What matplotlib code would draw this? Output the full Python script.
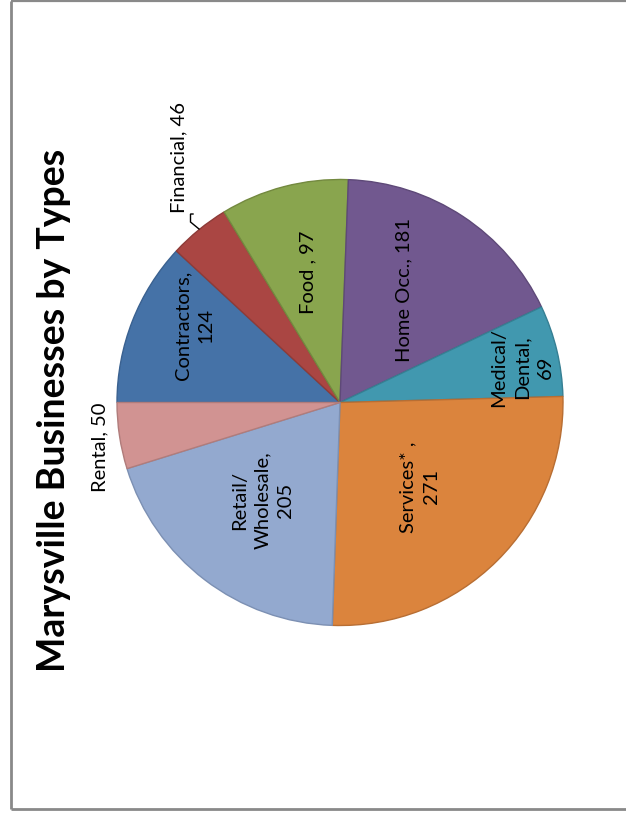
import matplotlib
matplotlib.use("Agg")
import matplotlib.pyplot as plt
import numpy as np

# ---- data ----
categories = ["Contractors", "Financial", "Food", "Home Occ.", "Medical/Dental",
              "Services*", "Retail/Wholesale", "Rental"]
values = [124, 46, 97, 181, 69, 271, 205, 50]
label_texts = ["Contractors,\n124", "Financial, 46", "Food , 97", "Home Occ., 181",
               "Medical/\nDental,\n69", "Services* ,\n271", "Retail/\nWholesale,\n205",
               "Rental, 50"]
title = "Marysville Businesses by Types"

# ---- style ----
colors = ["#4572A7", "#AA4643", "#89A54E", "#71588F", "#4198AF", "#DB843D", "#93A9CF", "#D19392"]
edges = ["#3A6190", "#8E3B38", "#73893F", "#5E4978", "#367F93", "#B86E33", "#7C90B3", "#B07C7B"]
# per-label radial distance (fraction of radius) and angle tweak (deg)
lab_r = [0.74, 1.315, 0.60, 0.58, 0.83, 0.52, 0.56, 1.095]
lab_dt = [-6.5, -6.0, -0.8, 3.7, -2.5, -1.5, -1.0, 2.0]

W, H = 626, 816
fig = plt.figure(figsize=(W / 100, H / 100), dpi=100)
ax = fig.add_axes([0, 0, 1, 1])

cx, cy, R = 340, H - 402.5, 223
wedges, _ = ax.pie(values, startangle=180, counterclock=False, colors=colors,
                   center=(cx, cy), radius=R,
                   wedgeprops=dict(linewidth=1.0))
for w, ec in zip(wedges, edges):
    w.set_edgecolor(ec)

ax.set_xlim(0, W)
ax.set_ylim(0, H)
ax.set_aspect("equal")
ax.axis("off")

font = "Lato"
for w, txt, rf, dt in zip(wedges, label_texts, lab_r, lab_dt):
    mid = np.deg2rad((w.theta1 + w.theta2) / 2 + dt)
    x = cx + rf * R * np.cos(mid)
    y = cy + rf * R * np.sin(mid)
    ax.text(x, y, txt, rotation=90, ha="center", va="center", multialignment="center",
            fontsize=14.5, family=font, color="black", linespacing=1.45)

# leader line for Financial
ax.plot([193, 190.5, 190.5, 199], [H - 214, H - 214, H - 222, H - 229],
        color="black", lw=1.0, solid_joinstyle="miter")

# title
ax.text(54, H - 410, title, rotation=90, ha="center", va="center",
        fontsize=27, fontweight="bold", family=font, color="black")

# frame
fc = "#898989"
ax.plot([10.5, 10.5], [H - 0.5, H - 809], color=fc, lw=2.0, solid_capstyle="butt")
ax.plot([10.5, W + 5], [H - 0.8, H - 0.8], color=fc, lw=1.6, solid_capstyle="butt")
ax.plot([10.5, W + 5], [H - 809, H - 809], color=fc, lw=2.0, solid_capstyle="butt")

fig.savefig("out.png", dpi=100)
